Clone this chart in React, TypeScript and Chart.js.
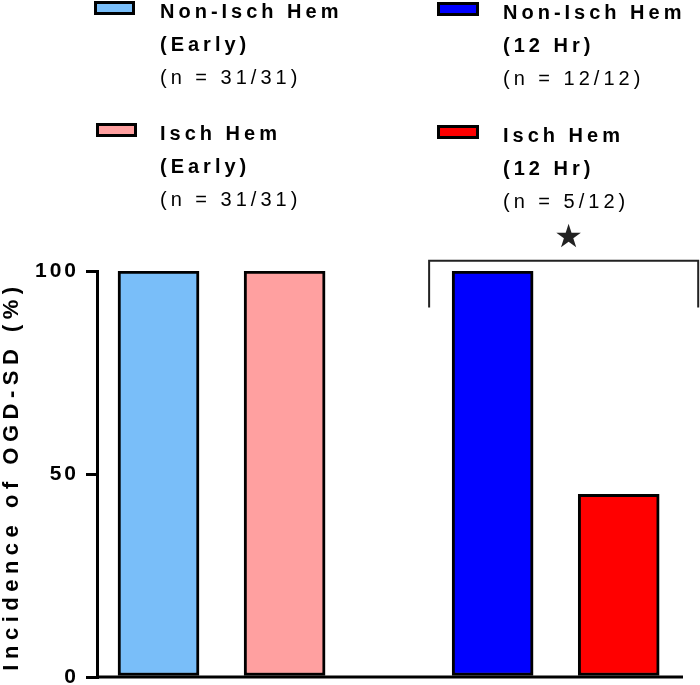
import React, { useEffect, useRef } from 'react';
import { Chart, registerables } from 'chart.js';

Chart.register(...registerables);

// ---- data ----
const groupNames = ['Non-Isch Hem', 'Isch Hem', 'Non-Isch Hem', 'Isch Hem'];
const timePoints = ['(Early)', '(Early)', '(12 Hr)', '(12 Hr)'];
const sampleSizes = ['(n = 31/31)', '(n = 31/31)', '(n = 12/12)', '(n = 5/12)'];
const incidence = [100, 100, 100, 45];
const xPositions = [1, 2, 3.65, 4.65];
const yTicks = [0, 50, 100];
const barColors = ['#79BEF9', '#FFA0A0', '#0000FF', '#FF0000'];
const yTitle = 'Incidence of OGD-SD (%)';
const significanceMark = '★';

const FONT = '"Liberation Sans", Arial, Helvetica, sans-serif';

const legendSlots = [
  { swatch: { left: 94, top: 1, width: 41 }, text: { left: 160, top: -5 } },
  { swatch: { left: 96, top: 123, width: 41 }, text: { left: 160, top: 117 } },
  { swatch: { left: 437, top: 2, width: 42 }, text: { left: 503, top: -4 } },
  { swatch: { left: 437, top: 125, width: 42 }, text: { left: 503, top: 119 } },
];

const annotationPlugin = {
  id: 'annot',
  beforeDraw(chart: any) {
    chart.ctx.letterSpacing = '3px';
  },
  afterDraw(chart: any) {
    const { ctx, chartArea, scales } = chart;
    const xs = scales.x;
    const ys = scales.y;

    // x axis baseline, spanning the x scale's range
    ctx.save();
    ctx.strokeStyle = '#000';
    ctx.lineWidth = 3;
    ctx.beginPath();
    const y0 = ys.getPixelForValue(0);
    ctx.moveTo(xs.getPixelForValue(xs.min), y0);
    ctx.lineTo(xs.getPixelForValue(xs.max), y0);
    ctx.stroke();
    ctx.restore();

    // y title
    ctx.save();
    ctx.letterSpacing = '5.5px';
    ctx.translate(18, (chartArea.top + chartArea.bottom) / 2 + 2);
    ctx.rotate(-Math.PI / 2);
    ctx.font = `bold 22px ${FONT}`;
    ctx.fillStyle = '#000';
    ctx.textAlign = 'center';
    ctx.textBaseline = 'alphabetic';
    ctx.fillText(yTitle, 0, 0);
    ctx.restore();

    // significance bracket
    const left = xs.getPixelForValue(xPositions[2]) - 63.5;
    const right = xs.getPixelForValue(xPositions[3]) + 79.5;
    const top = ys.getPixelForValue(102.5);
    const bottom = ys.getPixelForValue(91);
    ctx.save();
    ctx.strokeStyle = '#222';
    ctx.lineWidth = 2;
    ctx.beginPath();
    ctx.moveTo(left, bottom);
    ctx.lineTo(left, top);
    ctx.lineTo(right, top);
    ctx.lineTo(right, bottom);
    ctx.stroke();
    ctx.letterSpacing = '0px';
    ctx.fillStyle = '#222';
    ctx.font = `32px "DejaVu Sans", sans-serif`;
    ctx.textAlign = 'center';
    ctx.textBaseline = 'middle';
    ctx.fillText(significanceMark, (left + right) / 2 + 5, ys.getPixelForValue(108));
    ctx.restore();
  },
};

export default function App() {
  const ref = useRef<HTMLCanvasElement>(null);

  useEffect(() => {
    if (!ref.current) return;
    const chart = new Chart(ref.current, {
      type: 'bar',
      data: {
        datasets: incidence.map((v, i) => ({
          label: `${groupNames[i]} ${timePoints[i]}`,
          data: [{ x: xPositions[i], y: v }],
          backgroundColor: barColors[i],
          borderColor: '#000',
          borderWidth: 3,
          borderSkipped: false,
          barThickness: 81,
          grouped: false,
        })),
      },
      options: {
        responsive: false,
        animation: false,
        layout: { padding: { top: 271, left: 0, right: 17, bottom: 8 } },
        plugins: { legend: { display: false }, tooltip: { enabled: false } },
        scales: {
          x: {
            type: 'linear',
            offset: false,
            min: 0.512,
            max: 5.16,
            ticks: { display: false },
            grid: { display: false },
            border: { display: false },
            afterFit: (s: any) => {
              s.height = 0;
              s.paddingLeft = 0;
              s.paddingRight = 0;
            },
          },
          y: {
            min: 0,
            max: 100,
            afterBuildTicks: (s: any) => {
              s.ticks = yTicks.map((v) => ({ value: v }));
            },
            ticks: {
              color: '#000',
              padding: 7,
              font: { family: FONT, weight: 'bold', size: 21 },
            },
            grid: {
              drawOnChartArea: false,
              drawTicks: true,
              tickLength: 11,
              tickWidth: 3,
              tickColor: '#000',
              color: '#000',
              lineWidth: 3,
            },
            border: { display: true, color: '#000', width: 3 },
            afterFit: (s: any) => {
              s.width = 97;
              s.paddingTop = 0;
              s.paddingBottom = 0;
            },
          },
        },
      },
      plugins: [annotationPlugin],
    } as any);
    return () => chart.destroy();
  }, []);

  const textStyle: React.CSSProperties = {
    fontFamily: FONT,
    fontSize: 20,
    lineHeight: '33px',
    letterSpacing: '4px',
    color: '#000',
    whiteSpace: 'nowrap',
  };

  return (
    <div style={{ position: 'fixed', left: 0, top: 0, width: 700, height: 685, background: '#fff', overflow: 'hidden' }}>
      <canvas ref={ref} width={700} height={685} style={{ position: 'absolute', left: 0, top: 0, width: 700, height: 685 }} />
      {legendSlots.map((slot, i) => (
        <React.Fragment key={i}>
          <div
            style={{
              position: 'absolute',
              left: slot.swatch.left,
              top: slot.swatch.top,
              width: slot.swatch.width,
              height: 14,
              boxSizing: 'border-box',
              border: '3px solid #000',
              background: barColors[i],
            }}
          />
          <div style={{ position: 'absolute', left: slot.text.left, top: slot.text.top, ...textStyle }}>
            <div style={{ fontWeight: 'bold' }}>{groupNames[i]}</div>
            <div style={{ fontWeight: 'bold' }}>{timePoints[i]}</div>
            <div>{sampleSizes[i]}</div>
          </div>
        </React.Fragment>
      ))}
    </div>
  );
}
